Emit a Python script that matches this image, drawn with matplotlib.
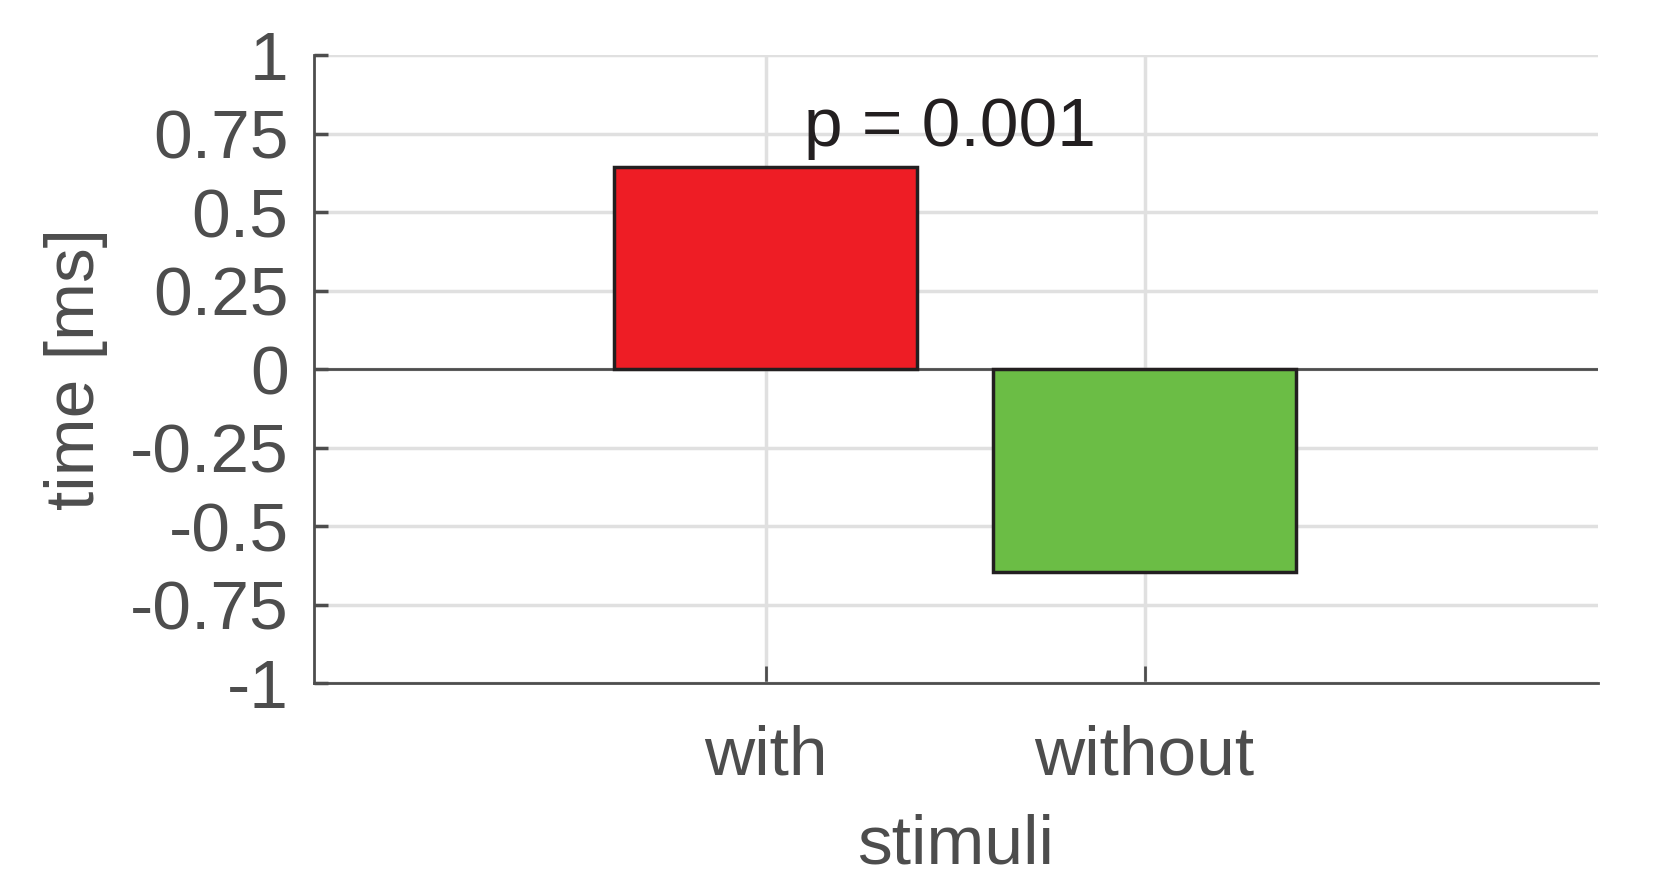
import matplotlib
matplotlib.use("Agg")
import matplotlib.pyplot as plt

categories = ["with", "without"]
values = [0.645, -0.645]
bar_colors = ["#EE1D25", "#6BBD45"]
yticks = [-1, -0.75, -0.5, -0.25, 0, 0.25, 0.5, 0.75, 1]
ytick_labels = ["-1", "-0.75", "-0.5", "-0.25", "0", "0.25", "0.5", "0.75", "1"]
p_text = "p = 0.001"

plt.rcParams['font.family'] = ['Liberation Sans', 'DejaVu Sans']

gray = "#4D4D4D"
fs = 50
fig = plt.figure(figsize=(16.68, 8.94), dpi=100)
ax = fig.add_axes([0.188, 0.236, 0.770, 0.702])

x = [1, 2]
ax.bar(x, values, width=0.8, color=bar_colors, edgecolor="#231F20", linewidth=2.5, zorder=3)
ax.axhline(0, color=gray, lw=2, zorder=2)

ax.set_xlim(-0.194, 3.197)
ax.set_ylim(-1, 1)
ax.set_xticks(x)
ax.set_xticklabels(categories)
ax.set_yticks(yticks)
ax.set_yticklabels(ytick_labels)

ax.grid(True, color="#E0E0E0", lw=2.5, zorder=0)
ax.set_axisbelow(True)
for s in ["top", "right"]:
    ax.spines[s].set_visible(False)
for s in ["left", "bottom"]:
    ax.spines[s].set_color(gray)
    ax.spines[s].set_linewidth(2)

ax.tick_params(axis="y", direction="in", length=10, width=2.5, color=gray,
               labelcolor=gray, labelsize=fs, pad=18)
ax.tick_params(axis="x", direction="in", length=12, width=2, color=gray,
               labelcolor=gray, labelsize=fs, pad=30)

ax.set_ylabel("time [ms]", fontsize=fs, color=gray, labelpad=16)
ax.set_xlabel("stimuli", fontsize=fs, color=gray, labelpad=18)

ax.text(1.1, 0.77, p_text, fontsize=fs, color="#231F20", ha="left", va="center", zorder=4)

fig.savefig("out.png", dpi=100)
